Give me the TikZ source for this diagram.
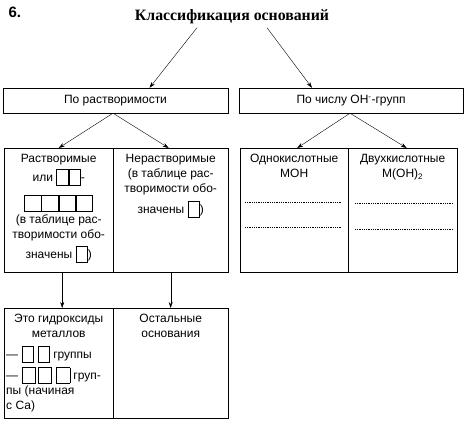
\documentclass[tikz,border=0pt]{standalone}
\usepackage{fontspec}
\setmainfont{Liberation Serif}
\setsansfont{Liberation Sans}
\usetikzlibrary{arrows.meta,positioning}
% empty cell to be filled in
\newcommand{\cell}[1][11pt]{{\setlength{\fboxsep}{0pt}\setlength{\fboxrule}{0.6pt}\raisebox{-3pt}{\fbox{\rule{0pt}{15pt}\hspace{#1}}}}}

\begin{document}
\begin{tikzpicture}[
  x=1pt,y=-1pt,
  >={Stealth[length=6pt,width=4pt]},
  title/.style={font=\rmfamily\bfseries\fontsize{15.8}{18}\selectfont},
  crit/.style={draw,minimum height=25pt,font=\sffamily\fontsize{12}{14}\selectfont},
  col/.style={draw,anchor=north west,inner sep=0pt},
  txt/.style={font=\sffamily\fontsize{12}{15}\selectfont,align=center,inner sep=1pt},
  link/.style={->,thin},
  blank/.style={densely dotted,thick}
]
\useasboundingbox (0,0) rectangle (475,426);
\node[font=\sffamily\bfseries\fontsize{15}{17}\selectfont,anchor=west] (num) at (5,12) {6.};
\node[title] (title) at (232,17) {Классификация оснований};
\node[crit,minimum width=225pt] (bysol) at (115.5,100.5) {По растворимости};
\node[crit,minimum width=224pt] (byoh) at (351,100.5) {По числу ОН\textsuperscript{-}-групп};
\node[col,minimum width=109pt,minimum height=124pt] (sol1) at (4,148) {};
\node[col,minimum width=115pt,minimum height=124pt] (sol2) at (113,148) {};
\node[col,minimum width=108pt,minimum height=124pt] (one) at (240,148) {};
\node[col,minimum width=109pt,minimum height=124pt] (two) at (348,148) {};
\node[col,minimum width=109pt,minimum height=110pt] (hyd) at (4,308) {};
\node[col,minimum width=115pt,minimum height=110pt] (rest) at (113,308) {};
% texts
\node[txt,below=5pt of sol1.north] (sol1t) {Растворимые\\[3pt]или \cell\cell-\\[9pt]\cell[16pt]\cell[16pt]\cell[16pt]\cell[16pt]\\[1pt](в таблице рас-\\творимости обо-\\[4pt]значены \cell)};
\node[txt,below=5pt of sol2.north] (sol2t) {Нерастворимые\\(в таблице рас-\\творимости обо-\\[5pt]значены \cell)};
\node[txt,below=5pt of one.north] (onet) {Однокислотные\\МОН};
\node[txt,below=5pt of two.north] (twot) {Двухкислотные\\М(ОН)\textsubscript{2}};
\node[txt,below=5pt of hyd.north] (hydt) {Это гидроксиды\\металлов};
\node[txt,align=left,anchor=north west] (hydl) at ([xshift=1pt,yshift=-6pt]hydt.south -| hyd.west) {— \cell\,\,\cell\ группы\\[4pt]— \cell[13pt]\,\cell[13pt]\,\,\cell[13pt] груп-\\пы (начиная\\с Са)};
\node[txt,below=5pt of rest.north] (restt) {Остальные\\основания};
% lines to fill in
\draw[blank] (245,202) -- (342,202);
\draw[blank] (245,227) -- (342,227);
\draw[blank] (355,203) -- (453,203);
\draw[blank] (355,229) -- (453,229);
% arrows
\draw[link] ([xshift=-35pt]title.south) -- ([xshift=34pt]bysol.north);
\draw[link] ([xshift=35pt]title.south) -- ([xshift=-39pt]byoh.north);
\draw[link] ([xshift=-2.5pt]bysol.south) -- (sol1.north);
\draw[link] ([xshift=-2.5pt]bysol.south) -- ([xshift=-2pt]sol2.north);
\draw[link] ([xshift=-1pt]byoh.south) -- ([xshift=3pt]one.north);
\draw[link] ([xshift=-1pt]byoh.south) -- ([xshift=4pt]two.north);
\draw[link] ([xshift=3.5pt]sol1.south) -- ([xshift=3.5pt]hyd.north);
\draw[link] (sol2.south) -- (rest.north);
\end{tikzpicture}
\end{document}
